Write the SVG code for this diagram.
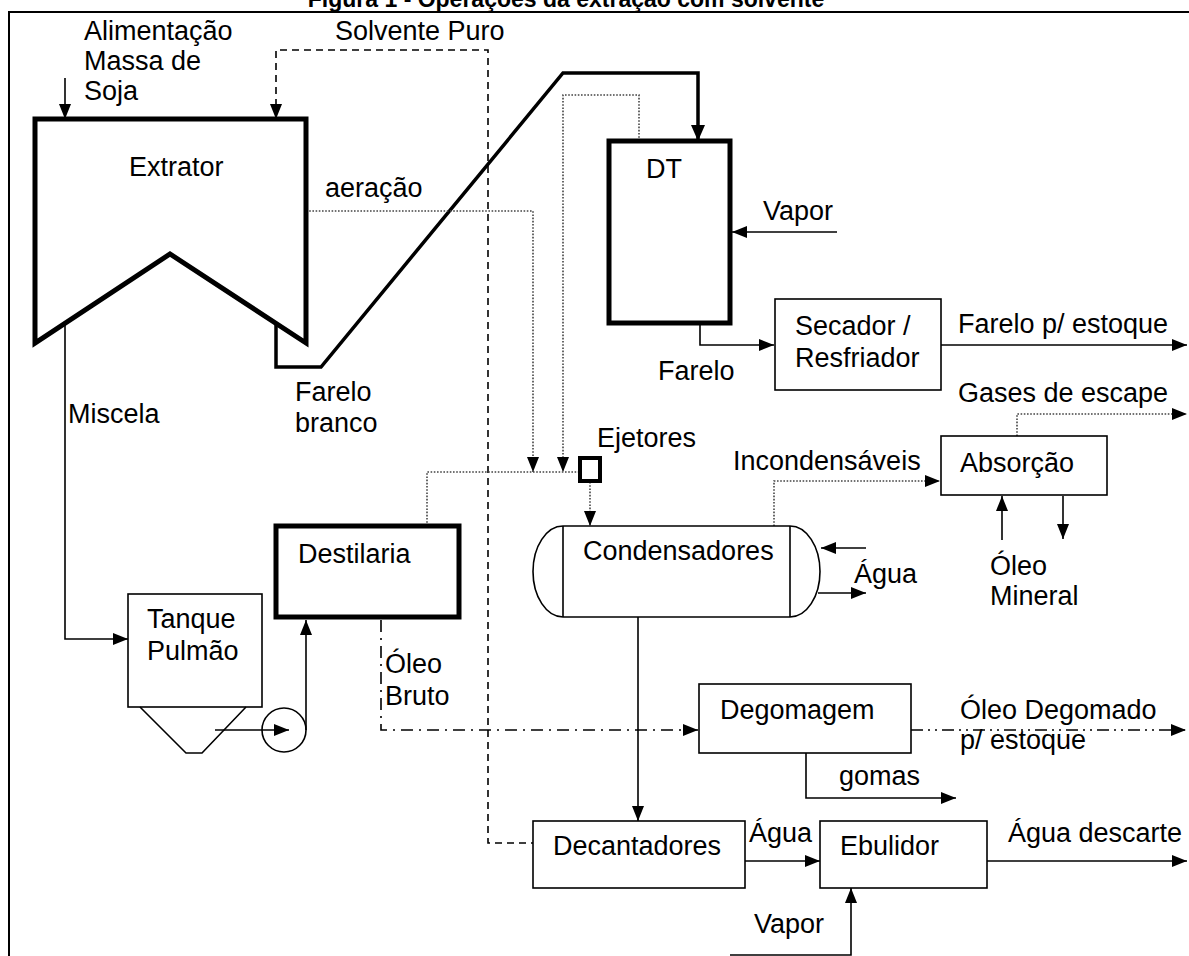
<svg xmlns="http://www.w3.org/2000/svg" width="1189" height="956" viewBox="0 0 1189 956">
<style>
.t{font-family:"Liberation Sans",Arial,sans-serif;font-size:27px;fill:#000}
.title{font-family:"Liberation Sans",Arial,sans-serif;font-size:23px;font-weight:bold;fill:#000}
.thin{fill:none;stroke:#000;stroke-width:1.6}
.box{fill:#fff;stroke:#000;stroke-width:1.6}
.thick{fill:#fff;stroke:#000;stroke-width:5}
.conv{fill:none;stroke:#000;stroke-width:3.5;stroke-linejoin:miter}
.dash{fill:none;stroke:#000;stroke-width:1.6;stroke-dasharray:7 5}
.dot{fill:none;stroke:#444;stroke-width:1.6;stroke-dasharray:1.6 1.6}
.dashdot{fill:none;stroke:#000;stroke-width:1.6;stroke-dasharray:12 6 2 6}
.dashdotdot{fill:none;stroke:#000;stroke-width:1.6;stroke-dasharray:12 5 2 5 2 5}
</style>
<defs>
<marker id="arr" markerUnits="userSpaceOnUse" markerWidth="15" markerHeight="12" refX="15" refY="6" orient="auto">
<path d="M0,0 L15,6 L0,12 Z" fill="#000"/>
</marker>
<marker id="arrB" markerUnits="userSpaceOnUse" markerWidth="16" markerHeight="14" refX="16" refY="7" orient="auto">
<path d="M0,0 L16,7 L0,14 Z" fill="#000"/>
</marker>
</defs>
<rect x="0" y="0" width="1189" height="956" fill="#fff"/>
<text class="title" x="566" y="7" text-anchor="middle">Figura 1 - Operações da extração com solvente</text>
<path d="M9,956 V12 H1189" fill="none" stroke="#000" stroke-width="2"/>

<g id="connectors">
<path class="thin" d="M65,78 V119" marker-end="url(#arr)"/>
<path class="dash" d="M276,118 V50 H488 V843 H533"/>
<path d="M276,104 L276,119" stroke="none" fill="none" marker-end="url(#arr)"/>
<path class="conv" d="M276,325 V367 H321 L563,73 H698 V141" marker-end="url(#arrB)"/>
<path class="dot" d="M306,211 H533 V472" marker-end="url(#arr)"/>
<path class="dot" d="M639,141 V95 H563 V472" marker-end="url(#arr)"/>
<path class="dot" d="M427,526 V472 H579"/>
<path class="dot" d="M590,482 V526" marker-end="url(#arr)"/>
<path class="dot" d="M774,526 V481 H940" marker-end="url(#arr)"/>
<path class="dot" d="M1017,436 V414 H1187" marker-end="url(#arr)"/>
<path class="thin" d="M837,232 H732" marker-end="url(#arr)"/>
<path class="thin" d="M700,325 V345 H774" marker-end="url(#arr)"/>
<path class="thin" d="M941,345 H1187" marker-end="url(#arr)"/>
<path class="thin" d="M1002,540 V496" marker-end="url(#arr)"/>
<path class="thin" d="M1063,496 V539" marker-end="url(#arr)"/>
<path class="thin" d="M866,548 H821" marker-end="url(#arr)"/>
<path class="thin" d="M818,593 H866" marker-end="url(#arr)"/>
<path class="thin" d="M638,617 V821" marker-end="url(#arr)"/>
<path class="thin" d="M65,323 V639 H128" marker-end="url(#arr)"/>
<path class="thin" d="M215,730 H289" marker-end="url(#arr)"/>
<path class="thin" d="M306,730 V620" marker-end="url(#arr)"/>
<path class="dashdot" d="M381,620 V730 H698" marker-end="url(#arr)"/>
<path class="dashdotdot" d="M911,730 H1186" marker-end="url(#arr)"/>
<path class="thin" d="M806,753 V798 H956" marker-end="url(#arr)"/>
<path class="thin" d="M745,861 H820" marker-end="url(#arr)"/>
<path class="thin" d="M987,861 H1187" marker-end="url(#arr)"/>
<path class="thin" d="M730,955 H851 V888" marker-end="url(#arr)"/>
</g>

<g id="extrator">
<path class="thick" d="M35,119 H306 V343 L170,254 L35,343 Z"/>
<text class="t" x="129" y="176">Extrator</text>
</g>
<g id="dt">
<rect class="thick" x="609" y="141" width="121" height="182"/>
<text class="t" x="646" y="178">DT</text>
</g>
<g id="secador">
<rect class="box" x="775" y="299" width="166" height="91"/>
<text class="t" x="795" y="335">Secador /</text>
<text class="t" x="795" y="367">Resfriador</text>
</g>
<g id="absorcao">
<rect class="box" x="941" y="436" width="166" height="59"/>
<text class="t" x="960" y="472">Absorção</text>
</g>
<g id="ejetores">
<rect x="580" y="458" width="20" height="23" fill="#fff" stroke="#000" stroke-width="4"/>
</g>
<g id="condensadores">
<path class="box" d="M563,526 H790 A30,45.5 0 0 1 790,617 H563 A30,45.5 0 0 1 563,526 Z"/>
<path class="thin" d="M563,526 V617 M790,526 V617"/>
<text class="t" x="583" y="560">Condensadores</text>
</g>
<g id="destilaria">
<rect class="thick" x="276" y="526" width="183" height="91"/>
<text class="t" x="298" y="563">Destilaria</text>
</g>
<g id="tanque">
<rect class="box" x="128" y="594" width="134" height="113"/>
<path class="thin" d="M140,707 L186,753 H202 L246,707"/>
<text class="t" x="147" y="628">Tanque</text>
<text class="t" x="147" y="660">Pulmão</text>
</g>
<g id="bomba">
<circle cx="284" cy="730" r="22" class="thin"/>
</g>
<g id="degomagem">
<rect class="box" x="699" y="684" width="212" height="69"/>
<text class="t" x="720" y="719">Degomagem</text>
</g>
<g id="decantadores">
<rect class="box" x="533" y="821" width="212" height="67"/>
<text class="t" x="553" y="855">Decantadores</text>
</g>
<g id="ebulidor">
<rect class="box" x="820" y="821" width="167" height="67"/>
<text class="t" x="840" y="855">Ebulidor</text>
</g>

<g id="labels">
<text class="t" x="84" y="40">Alimentação</text>
<text class="t" x="84" y="70">Massa de</text>
<text class="t" x="84" y="100">Soja</text>
<text class="t" x="335" y="40">Solvente Puro</text>
<text class="t" x="325" y="197">aeração</text>
<text class="t" x="295" y="401">Farelo</text>
<text class="t" x="295" y="432">branco</text>
<text class="t" x="68" y="423">Miscela</text>
<text class="t" x="763" y="220">Vapor</text>
<text class="t" x="658" y="380">Farelo</text>
<text class="t" x="958" y="333">Farelo p/ estoque</text>
<text class="t" x="958" y="402">Gases de escape</text>
<text class="t" x="597" y="447">Ejetores</text>
<text class="t" x="733" y="470">Incondensáveis</text>
<text class="t" x="854" y="583">Água</text>
<text class="t" x="990" y="575">Óleo</text>
<text class="t" x="990" y="605">Mineral</text>
<text class="t" x="385" y="673">Óleo</text>
<text class="t" x="385" y="705">Bruto</text>
<text class="t" x="960" y="719">Óleo Degomado</text>
<text class="t" x="960" y="749">p/ estoque</text>
<text class="t" x="839" y="785">gomas</text>
<text class="t" x="749" y="842">Água</text>
<text class="t" x="1008" y="842">Água descarte</text>
<text class="t" x="754" y="933">Vapor</text>
</g>
</svg>
